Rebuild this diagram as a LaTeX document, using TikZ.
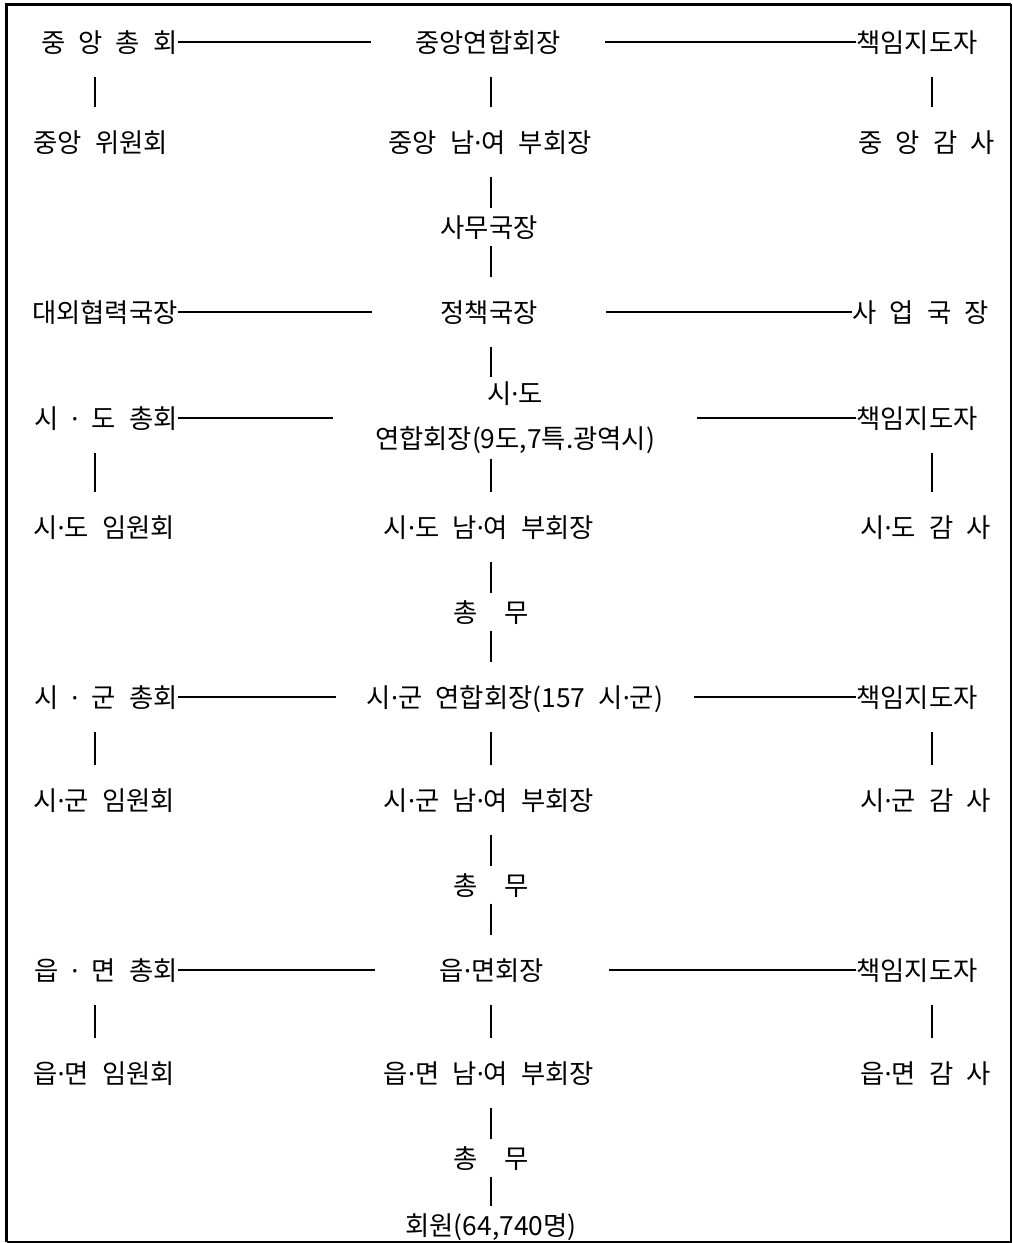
\documentclass[tikz,border=0pt]{standalone}
\usepackage{fontspec}
\setmainfont{Noto Sans CJK KR}
\newfontfamily\dotfont{Noto Sans}
\usepackage{tikz}

\newcommand{\orgfont}{\fontsize{15pt}{25.6pt}\selectfont\fontdimen2\font=0.5em\relax}
\newcommand{\md}{{\dotfont ·}}

\begin{document}
\begin{tikzpicture}[
    x=0.02cm, y=-0.02cm,
    post/.style={inner xsep=0pt, inner ysep=0.42cm, font=\orgfont, text height=13.2pt, text depth=1.8pt},
    staff/.style={post, inner ysep=0.1cm},
    hub/.style={post, minimum width=4.68cm},
    link/.style={thick}
]
\useasboundingbox (0,0) rectangle (1013,1243);
\draw[line width=0.06cm] (6.5,1242) -- (6.5,4.5) -- (1011,4.5);
\draw[line width=0.04cm] (1011,4.5) -- (1011,1242) -- (6.5,1242);

\coordinate (lcol) at (95,0);
\coordinate (ccol) at (491,0);
\coordinate (rcol) at (932,0);

% central
\node[post, anchor=east] (cgen) at (178,42) {중 앙 총 회};
\node[hub] (chead) at (488,42) {중앙연합회장};
\node[post, anchor=west] (clead) at (856,42) {책임지도자};
\node[post, anchor=west] (ccomm) at (33,142) {중앙 위원회};
\node[post] (cvice) at (490,142) {중앙 남\md 여 부회장};
\node[post, anchor=west] (caud) at (858,142) {중 앙 감 사};
\node[staff] (secgen) at (489,227) {사무국장};
\node[post, anchor=east] (extcoop) at (178,312) {대외협력국장};
\node[hub] (policy) at (489,312) {정책국장};
\node[post, anchor=west] (bizdir) at (852,312) {사 업 국 장};

% province
\node[post, anchor=east] (sdgen) at (178,418) {시 \md{} 도 총회};
\node[inner xsep=0pt, inner ysep=0.1cm, font=\orgfont, align=center, minimum width=7.28cm] (sdhead) at (515,418) {시\md 도\\연합회장(9도,7특.광역시)};
\node[post, anchor=west] (sdlead) at (856,418) {책임지도자};
\node[post, anchor=west] (sdexec) at (33,527) {시\md 도 임원회};
\node[post] (sdvice) at (489,527) {시\md 도 남\md 여 부회장};
\node[post, anchor=west] (sdaud) at (860,527) {시\md 도 감 사};
\node[staff] (sdsec) at (491,612) {총~~무};

% city / county
\node[post, anchor=east] (sggen) at (178,697) {시 \md{} 군 총회};
\node[hub, minimum width=7.16cm] (sghead) at (515,697) {시\md 군 연합회장(157 시\md 군)};
\node[post, anchor=west] (sglead) at (856,697) {책임지도자};
\node[post, anchor=west] (sgexec) at (33,800) {시\md 군 임원회};
\node[post] (sgvice) at (489,800) {시\md 군 남\md 여 부회장};
\node[post, anchor=west] (sgaud) at (860,800) {시\md 군 감 사};
\node[staff] (sgsec) at (491,885) {총~~무};

% town
\node[post, anchor=east] (emgen) at (178,970) {읍 \md{} 면 총회};
\node[hub] (emhead) at (492,970) {읍\md 면회장};
\node[post, anchor=west] (emlead) at (856,970) {책임지도자};
\node[post, anchor=west] (emexec) at (33,1073) {읍\md 면 임원회};
\node[post] (emvice) at (489,1073) {읍\md 면 남\md 여 부회장};
\node[post, anchor=west] (emaud) at (860,1073) {읍\md 면 감 사};
\node[staff] (emsec) at (491,1158) {총~~무};
\node[staff] (member) at (491,1225) {회원(64,740명)};

\draw[link] (cgen) -- (chead);
\draw[link] (chead) -- (clead);
\draw[link] (cgen.south -| lcol) -- (ccomm.north -| lcol);
\draw[link] (chead.south -| ccol) -- (cvice.north -| ccol);
\draw[link] (clead.south -| rcol) -- (caud.north -| rcol);
\draw[link] (cvice.south -| ccol) -- (secgen.north -| ccol);
\draw[link] (secgen.south -| ccol) -- (policy.north -| ccol);
\draw[link] (extcoop) -- (policy);
\draw[link] (policy) -- (bizdir);
\draw[link] (policy.south -| ccol) -- (sdhead.north -| ccol);

\draw[link] (sdgen) -- (sdhead);
\draw[link] (sdhead) -- (sdlead);
\draw[link] (sdgen.south -| lcol) -- (sdexec.north -| lcol);
\draw[link] (sdhead.south -| ccol) -- (sdvice.north -| ccol);
\draw[link] (sdlead.south -| rcol) -- (sdaud.north -| rcol);
\draw[link] (sdvice.south -| ccol) -- (sdsec.north -| ccol);
\draw[link] (sdsec.south -| ccol) -- (sghead.north -| ccol);

\draw[link] (sggen) -- (sghead);
\draw[link] (sghead) -- (sglead);
\draw[link] (sggen.south -| lcol) -- (sgexec.north -| lcol);
\draw[link] (sghead.south -| ccol) -- (sgvice.north -| ccol);
\draw[link] (sglead.south -| rcol) -- (sgaud.north -| rcol);
\draw[link] (sgvice.south -| ccol) -- (sgsec.north -| ccol);
\draw[link] (sgsec.south -| ccol) -- (emhead.north -| ccol);

\draw[link] (emgen) -- (emhead);
\draw[link] (emhead) -- (emlead);
\draw[link] (emgen.south -| lcol) -- (emexec.north -| lcol);
\draw[link] (emhead.south -| ccol) -- (emvice.north -| ccol);
\draw[link] (emlead.south -| rcol) -- (emaud.north -| rcol);
\draw[link] (emvice.south -| ccol) -- (emsec.north -| ccol);
\draw[link] (emsec.south -| ccol) -- (member.north -| ccol);
\end{tikzpicture}
\end{document}
